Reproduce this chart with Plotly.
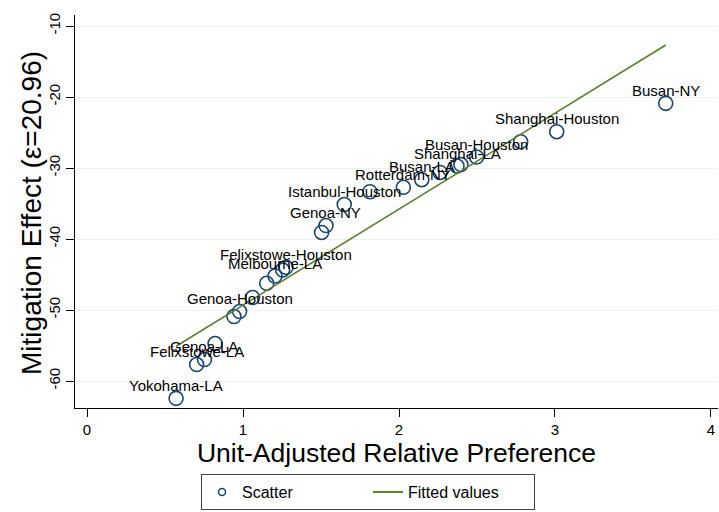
import numpy as np
import plotly.graph_objects as go

# Data
route_labels = ["Yokohama-LA", "Felixstowe-LA", "Genoa-LA", "", "", "Genoa-Houston",
                "", "", "Melbourne-LA", "", "Felixstowe-Houston", "", "Genoa-NY",
                "Istanbul-Houston", "", "Rotterdam-NY", "Busan-LA", "", "Shanghai-LA",
                "", "Busan-Houston", "", "Shanghai-Houston", "Busan-NY"]
relative_pref = [0.571, 0.703, 0.753, 0.821, 0.942, 0.978, 1.061, 1.152, 1.205, 1.254,
                 1.276, 1.504, 1.532, 1.649, 1.814, 2.028, 2.146, 2.263, 2.372, 2.397,
                 2.497, 2.780, 3.011, 3.710]
mitigation = [-62.44, -57.68, -56.97, -54.72, -50.92, -50.21, -48.24, -46.24, -45.21, -44.37,
              -43.99, -39.08, -38.10, -35.14, -33.34, -32.72, -31.65, -30.63, -29.72, -29.51,
              -28.45, -26.30, -24.89, -20.89]
x_ticks = [0, 1, 2, 3, 4]
y_ticks = [-60, -50, -40, -30, -20, -10]

FONT = "Liberation Sans, Arial, Helvetica, sans-serif"
NAVY = "#1a476f"
GREEN = "#5b7d32"

x = np.array(relative_pref)
y = np.array(mitigation)
slope, intercept = np.polyfit(x, y, 1)
fit_x = np.array([x.min(), x.max()])
fit_y = intercept + slope * fit_x

fig = go.Figure()
fig.add_trace(go.Scatter(
    x=relative_pref, y=mitigation, mode="markers", name="Scatter", showlegend=False,
    marker=dict(symbol="circle-open", size=14, color=NAVY, line=dict(width=1.6, color=NAVY)),
))
fig.add_trace(go.Scatter(
    x=fit_x, y=fit_y, mode="lines", name="Fitted values", showlegend=False,
    line=dict(color=GREEN, width=1.6),
))
# legend entries (no data)
fig.add_trace(go.Scatter(
    x=[None], y=[None], mode="markers", name="Scatter",
    marker=dict(symbol="circle-open", size=7, color=NAVY, line=dict(width=1.5, color=NAVY)),
))
fig.add_trace(go.Scatter(
    x=[None], y=[None], mode="lines", name="Fitted values",
    line=dict(color=GREEN, width=2),
))

for lab, xv, yv in zip(route_labels, relative_pref, mitigation):
    if lab:
        fig.add_annotation(x=xv, y=yv, text=lab, showarrow=False, yshift=13,
                           xanchor="center", yanchor="middle",
                           font=dict(family=FONT, size=15, color="black"))

fig.add_annotation(x=-0.068, y=0.497, xref="paper", yref="paper",
                   text="Mitigation Effect (ε=20.96)", textangle=-90, showarrow=False,
                   xanchor="center", yanchor="middle",
                   font=dict(family=FONT, size=28, color="black"))

fig.update_layout(
    width=719, height=512,
    margin=dict(l=75, r=1, t=15, b=104),
    paper_bgcolor="white", plot_bgcolor="white",
    font=dict(family=FONT, color="black"),
    showlegend=True,
    legend=dict(orientation="h", x=0.196, y=-0.168, xanchor="left", yanchor="top",
                bordercolor="#444444", borderwidth=1, bgcolor="white",
                font=dict(family=FONT, size=16, color="black"),
                entrywidth=121, entrywidthmode="pixels"),
    xaxis=dict(range=[-0.077, 4.045], tickvals=x_ticks, ticktext=[str(t) for t in x_ticks],
               automargin=False,
               showgrid=False, zeroline=False, showline=True, linecolor="black", linewidth=1,
               ticks="outside", ticklen=8, tickcolor="black",
               tickfont=dict(family=FONT, size=15, color="black"),
               title=dict(text="Unit-Adjusted Relative Preference", standoff=4,
                          font=dict(family=FONT, size=26.5, color="black"))),
    yaxis=dict(range=[-63.8, -8.45], tickvals=y_ticks, ticktext=[str(t) for t in y_ticks],
               automargin=False,
               showgrid=True, gridcolor="#eaf2f3", gridwidth=1, zeroline=False,
               showline=True, linecolor="black", linewidth=1,
               ticks="outside", ticklen=8, tickcolor="black", tickangle=-90,
               tickfont=dict(family=FONT, size=15, color="black")),
)

fig.write_html("out.html", config={"displayModeBar": False},
               post_script="document.body.style.margin='0';")
